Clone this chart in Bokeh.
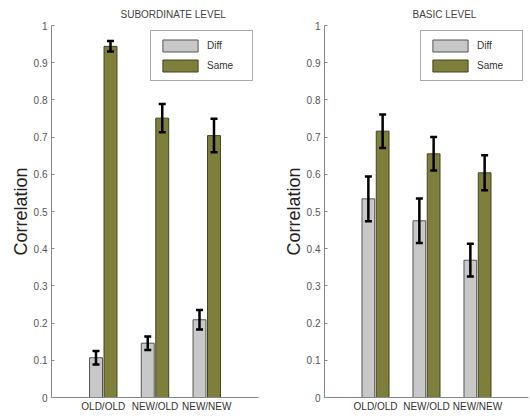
from bokeh.plotting import figure
from bokeh.models import (ColumnDataSource, Whisker, TeeHead, FixedTicker, Range1d,
                          Legend, LegendItem, Title)
from bokeh.layouts import row
from bokeh.embed import file_html
from bokeh.resources import INLINE

categories = ["OLD/OLD", "NEW/OLD", "NEW/NEW"]

sub_diff = [0.107, 0.146, 0.209]
sub_diff_err = [0.018, 0.018, 0.026]
sub_same = [0.944, 0.751, 0.704]
sub_same_err = [0.014, 0.038, 0.045]

bas_diff = [0.534, 0.475, 0.369]
bas_diff_err = [0.060, 0.060, 0.044]
bas_same = [0.716, 0.655, 0.604]
bas_same_err = [0.045, 0.045, 0.047]

titles = ["SUBORDINATE LEVEL", "BASIC LEVEL"]
y_title = "Correlation"
y_ticks = [0, 0.1, 0.2, 0.3, 0.4, 0.5, 0.6, 0.7, 0.8, 0.9, 1]
y_tick_labels = ["0", "0.1", "0.2", "0.3", "0.4", "0.5", "0.6", "0.7", "0.8", "0.9", "1"]

DIFF_COLOR = "#c8c8c8"
SAME_COLOR = "#7f7f3c"
FONT = "Liberation Sans"


def make_panel(title, diff, diff_err, same, same_err, width, mbl, mbr, title_off):
    p = figure(width=width, height=414, output_backend="svg", toolbar_location=None,
               x_range=Range1d(0, 4), y_range=Range1d(0, 1),
               min_border_left=mbl, min_border_right=mbr, min_border_top=24,
               min_border_bottom=0)
    p.grid.visible = False
    p.outline_line_color = None
    p.background_fill_color = "white"
    p.border_fill_color = "white"

    xs = [i + 1 for i in range(len(categories))]
    xd = [x - 0.14 for x in xs]
    xsm = [x + 0.14 for x in xs]
    src_d = ColumnDataSource(dict(x=xd, top=diff,
                                  lo=[v - e for v, e in zip(diff, diff_err)],
                                  hi=[v + e for v, e in zip(diff, diff_err)]))
    src_s = ColumnDataSource(dict(x=xsm, top=same,
                                  lo=[v - e for v, e in zip(same, same_err)],
                                  hi=[v + e for v, e in zip(same, same_err)]))
    r_d = p.vbar(x="x", top="top", width=0.25, source=src_d, fill_color=DIFF_COLOR,
                 line_color="#555555", line_width=1)
    r_s = p.vbar(x="x", top="top", width=0.25, source=src_s, fill_color=SAME_COLOR,
                 line_color="#444422", line_width=1)
    for src in (src_d, src_s):
        w = Whisker(base="x", lower="lo", upper="hi", source=src, line_color="black",
                    line_width=2.5, level="overlay",
                    upper_head=TeeHead(size=7, line_width=2.5, line_color="black"),
                    lower_head=TeeHead(size=7, line_width=2.5, line_color="black"))
        p.add_layout(w)

    legend = Legend(items=[LegendItem(label="Diff", renderers=[r_d]),
                           LegendItem(label="Same", renderers=[r_s])],
                    location="top_right", glyph_width=44, glyph_height=15,
                    label_text_font=FONT, label_text_font_size="10px",
                    label_text_color="#333333", label_standoff=5,
                    label_width=38, label_height=15,
                    border_line_color="#555555", border_line_width=1,
                    padding=7, spacing=5, margin=5,
                    background_fill_alpha=1)
    p.add_layout(legend)

    p.add_layout(Title(text=title, align="left", offset=title_off, text_font=FONT,
                       text_font_size="10px", text_font_style="normal",
                       text_color="#444444", standoff=12), "above")
    p.add_layout(Title(text=y_title, align="center", text_font=FONT,
                       text_font_size="18px", text_font_style="normal",
                       text_color="#222222", standoff=0), "left")

    p.yaxis.ticker = FixedTicker(ticks=y_ticks)
    p.yaxis.major_label_overrides = {t: l for t, l in zip(y_ticks, y_tick_labels)}
    p.yaxis.major_tick_in = 3
    p.yaxis.major_tick_out = 0
    p.yaxis.minor_tick_line_color = None
    p.yaxis.axis_line_color = "#888888"
    p.yaxis.major_tick_line_color = "#888888"
    p.yaxis.major_label_text_font = FONT
    p.yaxis.major_label_text_font_size = "10px"
    p.yaxis.major_label_text_color = "#555555"
    p.yaxis.major_label_standoff = 4

    p.xaxis.ticker = FixedTicker(ticks=xs)
    p.xaxis.major_label_overrides = {x: c for x, c in zip(xs, categories)}
    p.xaxis.major_tick_in = 0
    p.xaxis.major_tick_out = 0
    p.xaxis.minor_tick_line_color = None
    p.xaxis.axis_line_color = "#888888"
    p.xaxis.major_label_text_font = FONT
    p.xaxis.major_label_text_font_size = "10px"
    p.xaxis.major_label_text_color = "#333333"
    p.xaxis.major_label_standoff = 3
    return p


p1 = make_panel(titles[0], sub_diff, sub_diff_err, sub_same, sub_same_err, 265, 51, 7, 69)
p2 = make_panel(titles[1], bas_diff, bas_diff_err, bas_same, bas_same_err, 265, 59, 2, 88)
p = row(p1, p2)

open("out.html", "w").write(file_html(p, INLINE))
